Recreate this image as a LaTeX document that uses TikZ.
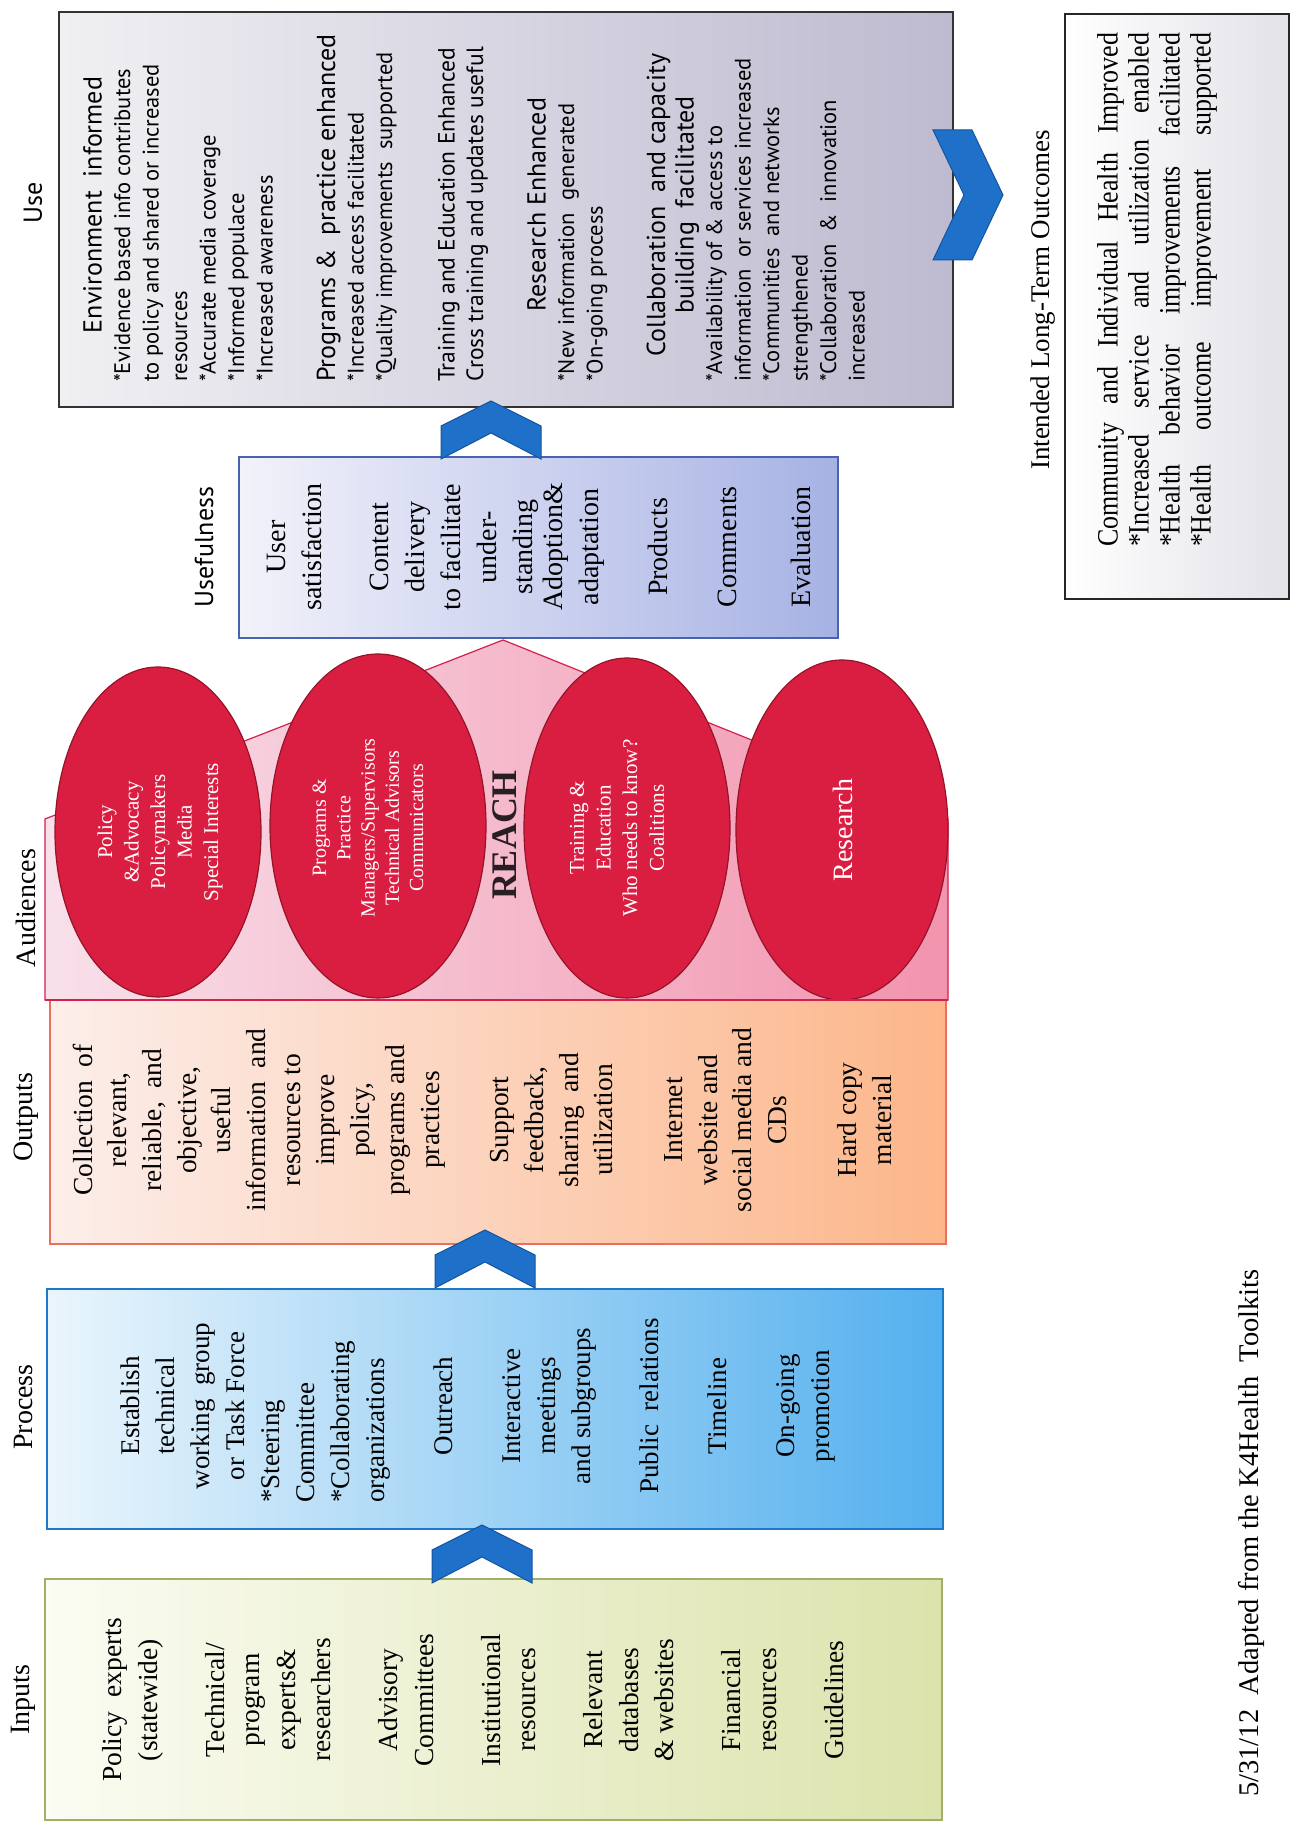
\documentclass[tikz,border=0pt]{standalone}
\usepackage{fontspec}
\setmainfont{Liberation Serif}
\newfontfamily\gillsans{PT Sans}
\newfontfamily\narrowserif[FakeStretch=0.88]{Liberation Serif}
\usetikzlibrary{shapes.geometric}
\definecolor{inL}{RGB}{251,252,242}
\definecolor{inR}{RGB}{220,227,172}
\definecolor{inB}{RGB}{160,176,104}
\definecolor{prL}{RGB}{234,245,252}
\definecolor{prR}{RGB}{84,176,238}
\definecolor{prB}{RGB}{30,120,200}
\definecolor{ouL}{RGB}{252,238,234}
\definecolor{ouR}{RGB}{252,182,138}
\definecolor{ouB}{RGB}{232,112,92}
\definecolor{pkL}{RGB}{248,224,234}
\definecolor{pkR}{RGB}{242,148,174}
\definecolor{pkB}{RGB}{212,32,76}
\definecolor{ufL}{RGB}{242,242,250}
\definecolor{ufR}{RGB}{166,178,228}
\definecolor{ufB}{RGB}{72,100,176}
\definecolor{usL}{RGB}{240,240,243}
\definecolor{usR}{RGB}{190,186,208}
\definecolor{ocR}{RGB}{226,226,232}
\definecolor{ellF}{RGB}{218,30,66}
\definecolor{ellD}{RGB}{150,20,40}
\definecolor{chF}{RGB}{30,112,200}
\definecolor{chD}{RGB}{20,84,160}
\definecolor{reachC}{RGB}{40,30,35}
\newcommand\ProcL[1]{\makebox[194pt][l]{#1}}
\newcommand\UseL[1]{\makebox[354pt][l]{#1}}
\newcommand\UseHC[1]{\makebox[354pt][c]{\fontsize{26}{28.5}\selectfont #1}}
\newcommand\UseHL[1]{\makebox[354pt][l]{\fontsize{26}{28.5}\selectfont #1}}
\newcommand\UseML[1]{\makebox[354pt][l]{\fontsize{23.5}{28.5}\selectfont #1}}
\newcommand\OcS[1]{\makebox[514pt][s]{#1}}
\begin{document}
\begin{tikzpicture}[x=1pt,y=1pt,
  txt/.style={rotate=90, inner sep=0pt, align=center, text=black},
  etxt/.style={txt, text=white},
  chev/.style={fill=chF, draw=chD, line width=1pt, line join=miter},
  ell/.style={ellipse, fill=ellF, draw=ellD, line width=1.2pt, inner sep=0pt},
  ttl/.style={txt, font=\fontsize{28}{30}\selectfont},
  sttl/.style={txt, font=\gillsans\fontsize{26}{28}\selectfont}
]
\useasboundingbox (0,0) rectangle (1294,1824);
\fill[white] (0,0) rectangle (1294,1824);

% ---- boxes
\draw[left color=inL, right color=inR, draw=inB, line width=1.2pt] (45,4) rectangle (942,245);
\draw[left color=prL, right color=prR, draw=prB, line width=1.2pt] (47,295) rectangle (943,535);
\draw[left color=ouL, right color=ouR, draw=ouB, line width=1.2pt] (50,580) rectangle (946,824);

% ---- audiences pentagon
\draw[left color=pkL, right color=pkR, draw=pkB, line width=1.2pt]
  (45,824) -- (45,1005) -- (503,1184) -- (948,1005) -- (948,824) -- cycle;

% ---- ellipses
\node[ell, minimum width=206pt, minimum height=330pt] (e1) at (158,992) {};
\node[ell, minimum width=216pt, minimum height=344pt] (e2) at (378,998) {};
\node[ell, minimum width=206pt, minimum height=340pt] (e3) at (627,996) {};
\node[ell, minimum width=212pt, minimum height=340pt] (e4) at (842,994) {};
\draw[pkB, line width=1.5pt] (45,824) -- (948,824);

% ---- usefulness, use, outcomes
\draw[left color=ufL, right color=ufR, draw=ufB, line width=1.2pt] (239,1186) rectangle (838,1367);
\draw[left color=usL, right color=usR, draw=black!80, line width=1.6pt] (59,1417) rectangle (953,1812);
\draw[left color=white, right color=ocR, draw=black!85, line width=1.6pt] (1065,1225) rectangle (1289,1810);

% ---- chevrons
\draw[chev] (482,299) -- ++(50,-25) -- ++(0,-33) -- ++(-50,26) -- ++(-50,-26) -- ++(0,33) -- cycle;
\draw[chev] (485,594) -- ++(50,-25) -- ++(0,-33) -- ++(-50,26) -- ++(-50,-26) -- ++(0,33) -- cycle;
\draw[chev] (491,1423) -- ++(50,-25) -- ++(0,-33) -- ++(-50,26) -- ++(-50,-26) -- ++(0,33) -- cycle;
\draw[chev] (933,1694) -- (972,1694) -- (1003,1629) -- (972,1564) -- (933,1564) -- (964,1629) -- cycle;

% ---- titles
\node[ttl] (tIn) at (23,124) {Inputs};
\node[ttl] (tProc) at (23,417) {Process};
\node[ttl] (tOut) at (26,707) {Outputs};
\node[ttl] (tAud) at (26,916) {Audiences};
\node[sttl] (tUsef) at (204,1277) {Usefulness};
\node[sttl] (tUse) at (33,1621) {Use};
\node[txt, font=\fontsize{27}{29}\selectfont] (tOutc) at (1043,1524) {Intended Long-Term Outcomes};
\node[txt, font=\fontsize{28.5}{30}\selectfont] (foot) at (1251,291) {5/31/12 \ Adapted from the K4Health \ Toolkits};

% ---- inputs text
\node[txt, font=\fontsize{27.5}{35.5}\selectfont] (inTxt) at (473,124)
 {Policy \ experts\\(statewide)\\[31.5pt]Technical/\\program\\experts\&\\researchers\\[31.5pt]Advisory\\Committees\\[31.5pt]Institutional\\resources\\[31.5pt]Relevant\\databases\\\& websites\\[31.5pt]Financial\\resources\\[31.5pt]Guidelines};

% ---- process text
\node[txt, font=\fontsize{27}{35}\selectfont] (prTxt) at (478,418)
 {Establish\\technical\\working \ group\\or Task Force\\\ProcL{*Steering}\\\ProcL{Committee}\\\ProcL{*Collaborating}\\\ProcL{organizations}\\[33pt]Outreach\\[33pt]Interactive\\meetings\\and subgroups\\[33pt]Public \ relations\\[33pt]Timeline\\[33pt]On-going\\promotion};

% ---- outputs text
\node[txt, font=\fontsize{27.5}{34.7}\selectfont] (ouTxt) at (482,704)
 {Collection \ of\\relevant,\\reliable, \ and\\objective,\\useful\\information \ and\\resources to\\improve\\policy,\\programs and\\practices\\[35pt]Support\\feedback,\\sharing \ and\\utilization\\[35pt]Internet\\website and\\social media and\\CDs\\[35pt]Hard copy\\material};

% ---- audiences text
\node[etxt, font=\fontsize{21}{26.5}\selectfont] (e1Txt) at (160,992)
 {Policy\\\&Advocacy\\Policymakers\\Media\\Special Interests};
\node[etxt, font=\fontsize{20}{24.3}\selectfont] (e2Txt) at (368,996)
 {Programs \&\\Practice\\Managers/Supervisors\\Technical Advisors\\Communicators};
\node[etxt, font=\fontsize{21}{26.7}\selectfont] (e3Txt) at (617,996)
 {Training \&\\Education\\Who needs to know?\\Coalitions};
\node[etxt, font=\fontsize{28}{30}\selectfont] (e4Txt) at (843,994) {Research};
\node[txt, text=reachC, font=\bfseries\fontsize{36}{38}\selectfont] (reach) at (505,989) {REACH};

% ---- usefulness text
\node[txt, font=\fontsize{28}{36}\selectfont] (ufTxt) at (539,1277)
 {User\\satisfaction\\[31pt]Content\\delivery\\to facilitate\\under-\\standing\\[-6pt]Adoption\&\\adaptation\\[33pt]Products\\[33pt]Comments\\[38pt]Evaluation};

% ---- use text
\node[txt, font=\gillsans\fontsize{22.5}{28.5}\selectfont] (usTxt) at (474,1619)
 {\UseHC{Environment \ informed}\\\UseL{*Evidence based info contributes}\\\UseL{to policy and shared or increased}\\\UseL{resources}\\\UseL{*Accurate media coverage}\\\UseL{*Informed populace}\\\UseL{*Increased awareness}\\[34pt]%
 \UseHL{Programs \& \ practice enhanced}\\\UseL{*Increased access facilitated}\\\UseL{*Quality improvements \ supported}\\[34pt]%
 \UseML{Training and Education Enhanced}\\\UseML{Cross training and updates useful}\\[34pt]%
 \UseHC{Research Enhanced}\\\UseL{*New information \ generated}\\\UseL{*On-going process}\\[34pt]%
 \UseHC{Collaboration \ and capacity}\\\UseHC{building \ facilitated}\\\UseL{*Availability of \& access to}\\\UseL{information \ or services increased}\\\UseL{*Communities \ and networks}\\\UseL{strengthened}\\\UseL{*Collaboration \ \& \ innovation}\\\UseL{increased}};

% ---- outcomes text
\node[txt, font=\narrowserif\fontsize{29.5}{31}\selectfont] (ocTxt) at (1157,1534)
 {\OcS{Community and Individual Health Improved}\\\OcS{*Increased service and utilization enabled}\\\OcS{*Health behavior improvements facilitated}\\\OcS{*Health outcome improvement supported}};
\end{tikzpicture}
\end{document}
